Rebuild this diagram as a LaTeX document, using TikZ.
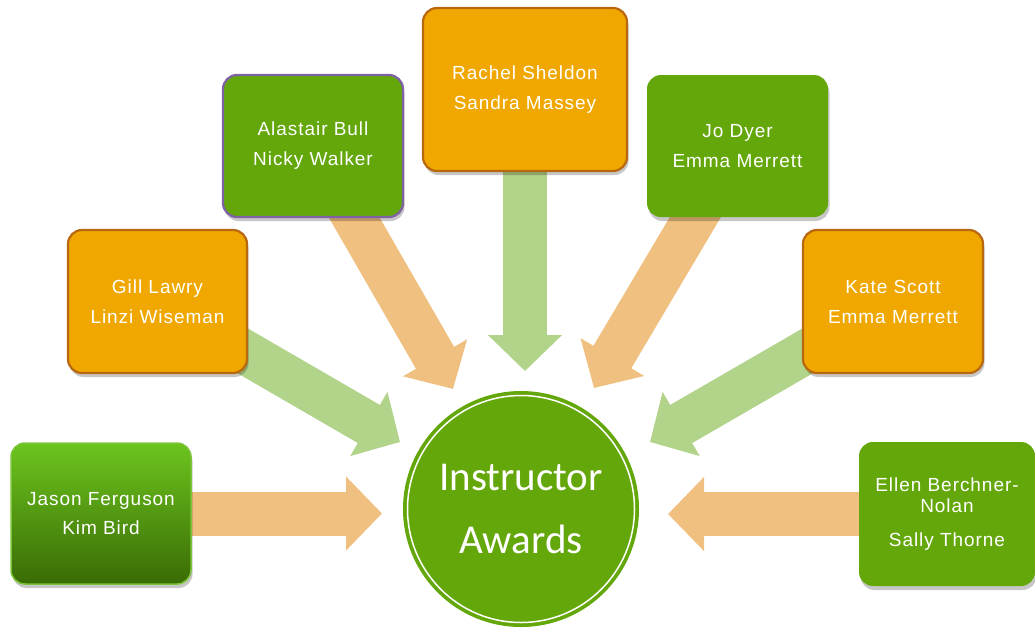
\documentclass[tikz,border=0pt]{standalone}
\usepackage{fontspec}
\setmainfont{Liberation Sans}
\newfontfamily\boxfont[LetterSpace=5]{Liberation Sans}
\newfontfamily\calfont{Carlito}
\usetikzlibrary{arrows.meta,shadows}
\pgfdeclarelayer{bg}
\pgfsetlayers{bg,main}
\definecolor{boxorange}{HTML}{F0A800}
\definecolor{orangeedge}{HTML}{B8680E}
\definecolor{boxgreen}{HTML}{64A70B}
\definecolor{purpleedge}{HTML}{7F62A5}
\definecolor{arrorange}{HTML}{F0C080}
\definecolor{arrgreen}{HTML}{B1D38A}
\definecolor{gradtop}{HTML}{6CC41E}
\definecolor{gradbot}{HTML}{3A6C05}
\definecolor{jasonedge}{HTML}{7CC43A}
\begin{document}
\begin{tikzpicture}[x=1pt,y=-1pt,
  basebox/.style={rounded corners=14pt, inner sep=0pt, text=white, align=center,
    font=\boxfont\fontsize{19}{21}\selectfont,
    drop shadow={shadow xshift=1.5pt, shadow yshift=-4pt, opacity=0.22, fill=black}},
  obox/.style={basebox, fill=boxorange, draw=orangeedge, line width=2.2pt},
  gbox/.style={basebox, fill=boxgreen},
  arrO/.style={draw=arrorange, line width=44pt, -{Triangle[width=72pt,length=36pt]}},
  arrG/.style={draw=arrgreen, line width=44pt, -{Triangle[width=72pt,length=36pt]}}]
\useasboundingbox (0,0) rectangle (1035,641);
% boxes
\node[basebox, top color=gradtop, bottom color=gradbot, draw=jasonedge, line width=1.5pt,
  minimum width=180pt, minimum height=141pt] (jason) at (101,513.5) {Jason Ferguson\\[8pt]Kim Bird};
\node[obox, minimum width=179pt, minimum height=143pt] (gill) at (157.5,301.5) {Gill Lawry\\[9pt]Linzi Wiseman};
\node[gbox, draw=purpleedge, line width=2.2pt, minimum width=180pt, minimum height=142pt] (alastair) at (313,146) {Alastair Bull\\[9pt]Nicky Walker};
\node[obox, minimum width=204pt, minimum height=163pt] (rachel) at (525,89.5) {Rachel Sheldon\\[9pt]Sandra Massey};
\node[gbox, minimum width=181pt, minimum height=142pt] (jo) at (737.5,146) {Jo Dyer\\[9pt]Emma Merrett};
\node[obox, minimum width=180pt, minimum height=143pt] (kate) at (893,301.5) {Kate Scott\\[9pt]Emma Merrett};
\node[gbox, minimum width=176pt, minimum height=144pt] (ellen) at (947,514) {Ellen Berchner-\\Nolan\\[13pt]Sally Thorne};
% centre
\node[circle, fill=boxgreen, minimum size=236pt, inner sep=0pt, text=white, align=center,
  font=\calfont\fontsize{41}{63}\selectfont] (aw) at (521,509) {Instructor\\Awards};
\draw[white, line width=1.5pt] (aw.center) circle[radius=113.5pt];
% arrow tips
\coordinate (tJason) at (382,513.5);
\coordinate (tGill) at (400,442);
\coordinate (tAlastair) at (453,389);
\coordinate (tRachel) at (525,371);
\coordinate (tJo) at (594,388);
\coordinate (tKate) at (650,442);
\coordinate (tEllen) at (668,514);
\begin{pgfonlayer}{bg}
\draw[arrO] (jason.center) -- (tJason);
\draw[arrG] (gill.center) -- (tGill);
\draw[arrO] (alastair.center) -- (tAlastair);
\draw[arrG] (rachel.center) -- (tRachel);
\draw[arrO] (jo.center) -- (tJo);
\draw[arrG] (kate.center) -- (tKate);
\draw[arrO] (ellen.center) -- (tEllen);
\end{pgfonlayer}
\end{tikzpicture}
\end{document}
